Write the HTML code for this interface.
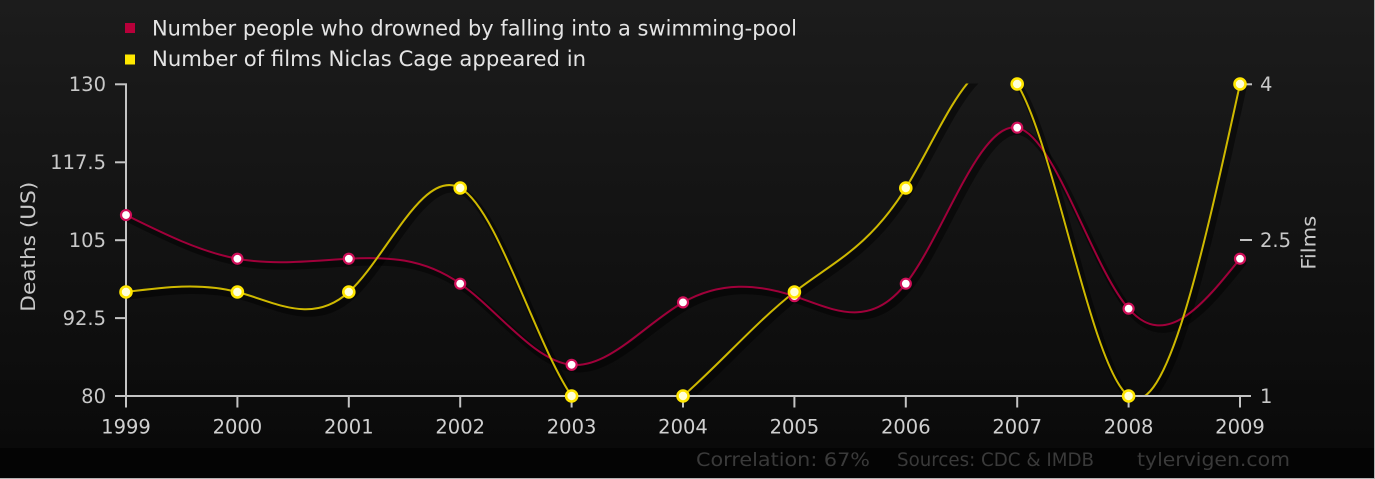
<!DOCTYPE html>
<html>
<head>
<meta charset="utf-8">
<style>
html,body{margin:0;padding:0;background:#111;}
svg{display:block;}
text{font-family:"DejaVu Sans","Liberation Sans",sans-serif;}
</style>
</head>
<body>
<svg width="1375" height="479" viewBox="0 0 1375 479" xmlns="http://www.w3.org/2000/svg">
<defs>
<linearGradient id="bg" x1="0" y1="0" x2="0" y2="1">
<stop offset="0" stop-color="#1c1c1c"/>
<stop offset="1" stop-color="#0a0a0a"/>
</linearGradient>
<clipPath id="plot"><rect x="120" y="83.5" width="1130" height="313"/></clipPath>
</defs>
<rect x="0" y="0" width="1375" height="448" fill="url(#bg)"/>
<rect x="0" y="448" width="1375" height="31" fill="#040404"/>
<line x1="1374.5" y1="0" x2="1374.5" y2="479" stroke="#b4b4b4" stroke-width="1"/>
<line x1="0" y1="478.5" x2="1375" y2="478.5" stroke="#b4b4b4" stroke-width="1"/>

<!-- legend -->
<rect x="125" y="23" width="10" height="10" fill="#b8003a"/>
<text x="152" y="35.5" font-size="21" fill="#e4e4e4" textLength="645" lengthAdjust="spacingAndGlyphs">Number people who drowned by falling into a swimming-pool</text>
<rect x="125" y="54.5" width="10" height="10" fill="#ffe800"/>
<text x="152" y="66" font-size="21" fill="#e4e4e4" textLength="434" lengthAdjust="spacingAndGlyphs">Number of films Niclas Cage appeared in</text>

<!-- series shadows -->
<g clip-path="url(#plot)" fill="none" stroke="#000" stroke-linecap="round">
<g transform="translate(3,4)" stroke-opacity="0.45" stroke-width="7">
<path d="M126,215.04 C163.13,233.47 200.27,251.91 237.4,258.72 C274.53,265.53 311.67,260.73 348.8,258.72 C385.93,256.72 423.07,257.51 460.2,283.68 C497.33,309.85 534.47,361.39 571.6,364.8 C608.73,368.21 645.87,323.5 683,302.4 C720.13,281.3 757.27,283.8 794.4,296.16 C831.53,308.52 868.67,330.74 905.8,283.68 C942.93,236.62 980.07,120.29 1017.2,127.68 C1054.33,135.07 1091.47,266.18 1128.6,308.64 C1165.73,351.1 1202.87,304.91 1240,258.72"/>
<path d="M126,292 C163.13,287.21 200.27,282.41 237.4,292 C274.53,301.59 311.67,325.56 348.8,292 C385.93,258.44 423.07,167.35 460.2,188 C497.33,208.65 534.47,341.03 571.6,396 C608.73,450.97 645.87,428.51 683,396 C720.13,363.49 757.27,320.92 794.4,292 C831.53,263.08 868.67,247.79 905.8,188 C942.93,128.21 980.07,23.9 1017.2,84 C1054.33,144.1 1091.47,368.6 1128.6,396 C1165.73,423.4 1202.87,253.7 1240,84"/>
</g>
</g>

<!-- series lines -->
<g clip-path="url(#plot)" fill="none" stroke-width="2">
<path stroke="#a0003a" d="M126,215.04 C163.13,233.47 200.27,251.91 237.4,258.72 C274.53,265.53 311.67,260.73 348.8,258.72 C385.93,256.72 423.07,257.51 460.2,283.68 C497.33,309.85 534.47,361.39 571.6,364.8 C608.73,368.21 645.87,323.5 683,302.4 C720.13,281.3 757.27,283.8 794.4,296.16 C831.53,308.52 868.67,330.74 905.8,283.68 C942.93,236.62 980.07,120.29 1017.2,127.68 C1054.33,135.07 1091.47,266.18 1128.6,308.64 C1165.73,351.1 1202.87,304.91 1240,258.72"/>
<path stroke="#cfb900" d="M126,292 C163.13,287.21 200.27,282.41 237.4,292 C274.53,301.59 311.67,325.56 348.8,292 C385.93,258.44 423.07,167.35 460.2,188 C497.33,208.65 534.47,341.03 571.6,396 C608.73,450.97 645.87,428.51 683,396 C720.13,363.49 757.27,320.92 794.4,292 C831.53,263.08 868.67,247.79 905.8,188 C942.93,128.21 980.07,23.9 1017.2,84 C1054.33,144.1 1091.47,368.6 1128.6,396 C1165.73,423.4 1202.87,253.7 1240,84"/>
</g>

<!-- axes -->
<g stroke="#c4c4c4" stroke-width="2" fill="none">
<line x1="126" y1="83.5" x2="126" y2="397"/>
<line x1="115" y1="396" x2="1251" y2="396"/>
<line x1="115" y1="84.3" x2="127" y2="84.3"/>
<line x1="115" y1="162.3" x2="126" y2="162.3"/>
<line x1="115" y1="240.2" x2="126" y2="240.2"/>
<line x1="115" y1="318.1" x2="126" y2="318.1"/>
<line x1="126" y1="396" x2="126" y2="407.5"/>
<line x1="237.4" y1="396" x2="237.4" y2="407.5"/>
<line x1="348.8" y1="396" x2="348.8" y2="407.5"/>
<line x1="460.2" y1="396" x2="460.2" y2="407.5"/>
<line x1="571.6" y1="396" x2="571.6" y2="407.5"/>
<line x1="683" y1="396" x2="683" y2="407.5"/>
<line x1="794.4" y1="396" x2="794.4" y2="407.5"/>
<line x1="905.8" y1="396" x2="905.8" y2="407.5"/>
<line x1="1017.2" y1="396" x2="1017.2" y2="407.5"/>
<line x1="1128.6" y1="396" x2="1128.6" y2="407.5"/>
<line x1="1240" y1="396" x2="1240" y2="407.5"/>
<line x1="1240" y1="84.3" x2="1252" y2="84.3"/>
<line x1="1240" y1="240" x2="1252" y2="240"/>
</g>

<!-- markers -->
<g fill="#ffffff" stroke="#d0105a" stroke-width="2.2">
<circle cx="126" cy="215.04" r="5"/>
<circle cx="237.4" cy="258.72" r="5"/>
<circle cx="348.8" cy="258.72" r="5"/>
<circle cx="460.2" cy="283.68" r="5"/>
<circle cx="571.6" cy="364.8" r="5"/>
<circle cx="683" cy="302.4" r="5"/>
<circle cx="794.4" cy="296.16" r="5"/>
<circle cx="905.8" cy="283.68" r="5"/>
<circle cx="1017.2" cy="127.68" r="5"/>
<circle cx="1128.6" cy="308.64" r="5"/>
<circle cx="1240" cy="258.72" r="5"/>
</g>
<g fill="#ffffd8" stroke="#ffe600" stroke-width="2.6">
<circle cx="126" cy="292" r="5.5"/>
<circle cx="237.4" cy="292" r="5.5"/>
<circle cx="348.8" cy="292" r="5.5"/>
<circle cx="460.2" cy="188" r="5.5"/>
<circle cx="571.6" cy="396" r="5.5"/>
<circle cx="683" cy="396" r="5.5"/>
<circle cx="794.4" cy="292" r="5.5"/>
<circle cx="905.8" cy="188" r="5.5"/>
<circle cx="1017.2" cy="84" r="5.5"/>
<circle cx="1128.6" cy="396" r="5.5"/>
<circle cx="1240" cy="84" r="5.5"/>
</g>

<!-- left axis labels -->
<g font-size="19.5" fill="#c8c8c8" text-anchor="end">
<text x="106" y="91">130</text>
<text x="106" y="169">117.5</text>
<text x="106" y="247">105</text>
<text x="106" y="325">92.5</text>
<text x="106" y="403">80</text>
</g>
<text transform="translate(35,246.7) rotate(-90)" font-size="19.5" fill="#c8c8c8" text-anchor="middle" textLength="130" lengthAdjust="spacingAndGlyphs">Deaths (US)</text>

<!-- right axis labels -->
<g font-size="19.5" fill="#c8c8c8">
<text x="1260" y="91">4</text>
<text x="1260" y="247">2.5</text>
<text x="1260" y="403">1</text>
</g>
<text transform="translate(1315.5,242.7) rotate(-90)" font-size="19.5" fill="#c8c8c8" text-anchor="middle" textLength="54" lengthAdjust="spacingAndGlyphs">Films</text>

<!-- x axis labels -->
<g font-size="19.5" fill="#d0d0d0" text-anchor="middle">
<text x="126" y="433.5">1999</text>
<text x="237.4" y="433.5">2000</text>
<text x="348.8" y="433.5">2001</text>
<text x="460.2" y="433.5">2002</text>
<text x="571.6" y="433.5">2003</text>
<text x="683" y="433.5">2004</text>
<text x="794.4" y="433.5">2005</text>
<text x="905.8" y="433.5">2006</text>
<text x="1017.2" y="433.5">2007</text>
<text x="1128.6" y="433.5">2008</text>
<text x="1240" y="433.5">2009</text>
</g>

<!-- credits -->
<g font-size="19" fill="#3a3a3a">
<text x="696" y="466" textLength="174" lengthAdjust="spacingAndGlyphs">Correlation: 67%</text>
<text x="897" y="466" textLength="197" lengthAdjust="spacingAndGlyphs">Sources: CDC &amp; IMDB</text>
<text x="1137" y="466" textLength="153" lengthAdjust="spacingAndGlyphs">tylervigen.com</text>
</g>
</svg>
</body>
</html>
